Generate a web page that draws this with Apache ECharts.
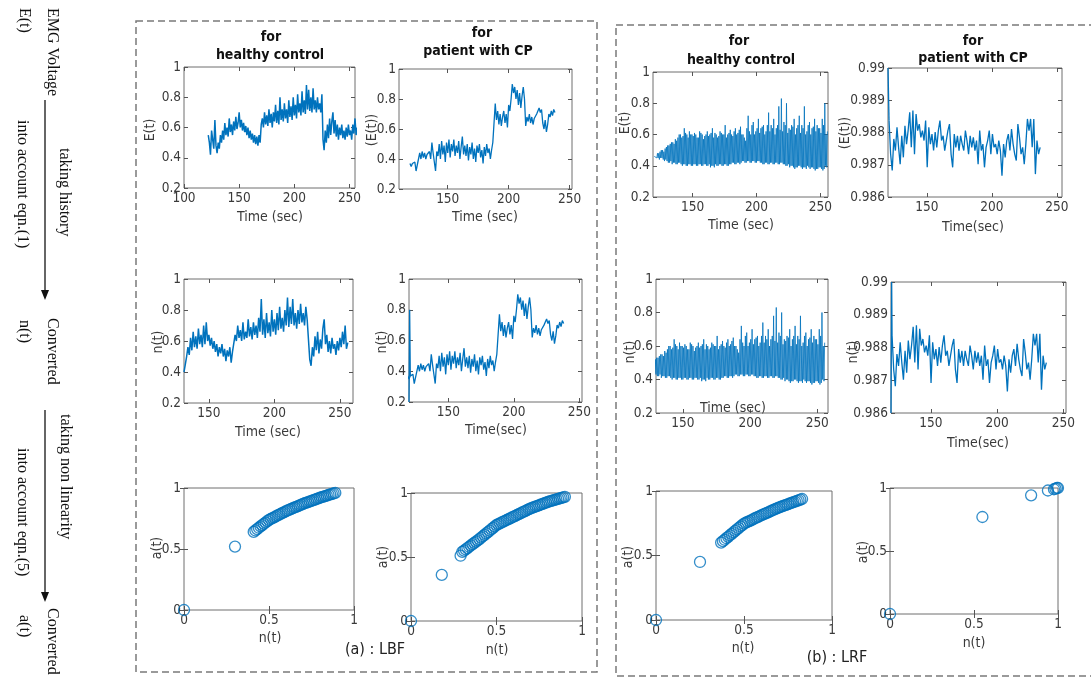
<!DOCTYPE html>
<html>
<head>
<meta charset="utf-8">
<script src="https://cdn.jsdelivr.net/npm/echarts@6/dist/echarts.min.js"></script>
<style>
html,body{margin:0;padding:0;background:#fff;}
#chart{width:1091px;height:686px;}
</style>
</head>
<body>
<div id="chart"></div>
<script>
// ---------------- DATA ----------------
// Tick labels
const ticksTimeA = [100, 150, 200, 250];
const ticksTime = [150, 200, 250];
const ticksE = [0.2, 0.4, 0.6, 0.8, 1];
const ticksFine = [0.986, 0.987, 0.988, 0.989, 0.99];
const ticksUnit = [0, 0.5, 1];

// (a) LBF, healthy control : E(t), samples every 1 s from 122 s
const lbfHealthyE_start = 122, lbfHealthyE_step = 1;
const lbfHealthyE = [
0.55,0.50,0.42,0.58,0.52,0.46,0.65,0.48,0.43,0.50,
0.46,0.55,0.50,0.58,0.52,0.63,0.55,0.60,0.54,0.66,
0.57,0.62,0.55,0.64,0.58,0.67,0.59,0.63,0.70,0.60,
0.65,0.58,0.63,0.57,0.61,0.55,0.60,0.53,0.58,0.52,
0.56,0.50,0.55,0.49,0.54,0.48,0.55,0.50,0.62,0.66,
0.60,0.70,0.62,0.68,0.61,0.72,0.63,0.69,0.60,0.70,
0.64,0.75,0.63,0.71,0.62,0.80,0.65,0.72,0.64,0.76,
0.66,0.72,0.63,0.78,0.67,0.74,0.65,0.80,0.68,0.75,
0.66,0.82,0.70,0.76,0.68,0.84,0.70,0.78,0.69,0.88,
0.72,0.85,0.71,0.80,0.70,0.86,0.72,0.78,0.70,0.80,
0.72,0.76,0.70,0.82,0.52,0.45,0.58,0.50,0.62,0.53,
0.66,0.55,0.64,0.70,0.56,0.65,0.54,0.62,0.52,0.60,
0.55,0.62,0.53,0.58,0.52,0.60,0.54,0.62,0.55,0.58,
0.52,0.62,0.56,0.66,0.55,0.60];

// (a) LBF, patient with CP : E(t), every 1 s from 119 s
const lbfPatientE_start = 119, lbfPatientE_step = 1;
const lbfPatientE = [
0.37,0.35,0.37,0.36,0.38,0.32,0.36,0.37,0.44,0.40,
0.45,0.41,0.44,0.40,0.43,0.42,0.45,0.40,0.51,0.44,
0.38,0.32,0.45,0.42,0.50,0.40,0.52,0.43,0.49,0.38,
0.51,0.44,0.53,0.41,0.50,0.45,0.53,0.42,0.49,0.44,
0.52,0.40,0.48,0.55,0.43,0.49,0.42,0.50,0.39,0.48,
0.43,0.51,0.40,0.47,0.38,0.49,0.44,0.50,0.41,0.46,
0.37,0.48,0.42,0.50,0.44,0.47,0.40,0.46,0.51,0.50,
0.77,0.66,0.72,0.63,0.70,0.62,0.68,0.72,0.64,0.70,
0.61,0.76,0.72,0.80,0.90,0.84,0.88,0.80,0.86,0.76,
0.84,0.74,0.82,0.88,0.80,0.62,0.68,0.65,0.70,0.64,
0.68,0.63,0.67,0.66,0.70,0.72,0.74,0.71,0.73,0.64,
0.60,0.66,0.58,0.63,0.70,0.68,0.72,0.69,0.73,0.71];

// (b) LRF, healthy control : E(t), every 0.5 s from 120 s
const lrfHealthyE_start = 120, lrfHealthyE_step = 0.5;
const lrfHealthyE = [
.46,.47,.46,.47, .45,.48,.45,.48, .44,.49,.45,.50, .45,.50,.44,.49, .43,.51,.44,.52,
.43,.53,.42,.53, .42,.54,.43,.55, .41,.55,.42,.54, .42,.57,.41,.56, .41,.58,.42,.60,
.42,.60,.41,.58, .40,.59,.41,.64, .41,.61,.40,.60, .40,.58,.41,.62, .41,.60,.40,.60,
.40,.59,.41,.61, .41,.60,.40,.58, .40,.58,.41,.62, .41,.61,.40,.60, .40,.57,.41,.59,
.41,.60,.40,.62, .40,.59,.41,.60, .39,.61,.40,.64, .40,.58,.39,.61, .41,.60,.40,.58,
.40,.59,.41,.62, .41,.61,.40,.60, .40,.60,.41,.66, .41,.58,.40,.60, .40,.61,.41,.63,
.41,.60,.42,.59, .42,.62,.41,.64, .41,.60,.42,.61, .42,.63,.41,.65, .42,.60,.43,.60,
.43,.58,.42,.56, .42,.64,.43,.72, .43,.62,.42,.60, .42,.66,.43,.68, .43,.60,.42,.62,
.42,.64,.43,.70, .43,.61,.42,.64, .42,.65,.41,.66, .41,.60,.42,.62, .42,.66,.41,.74,
.41,.62,.42,.66, .42,.64,.41,.70, .41,.60,.42,.64, .42,.66,.41,.78, .41,.63,.42,.83,
.42,.62,.41,.68, .41,.66,.40,.80, .40,.61,.41,.64, .39,.63,.40,.66, .40,.65,.39,.70,
.38,.60,.39,.64, .39,.66,.40,.72, .40,.61,.39,.66, .38,.64,.39,.78, .39,.60,.38,.62,
.40,.66,.39,.68, .38,.60,.39,.64, .39,.65,.38,.70, .37,.62,.38,.66, .38,.64,.39,.64,
.39,.61,.38,.70, .37,.66,.38,.80, .40,.60,.39,.62];

// (b) LRF, patient with CP : E(t), every 1.225 s from 120.8 s
const lrfPatientE_start = 120.8, lrfPatientE_step = 1.225;
const lrfPatientE = [
0.98837,0.98733,0.98682,0.98780,0.98744,0.98816,0.98754,0.98702,0.98790,0.98723,
0.98821,0.98764,0.98806,0.98863,0.98754,0.98868,0.98733,0.98857,0.98806,0.98826,
0.98785,0.98806,0.98775,0.98837,0.98692,0.98816,0.98764,0.98795,0.98744,0.98801,
0.98754,0.98806,0.98837,0.98775,0.98790,0.98744,0.98775,0.98806,0.98826,0.98733,
0.98692,0.98795,0.98754,0.98790,0.98744,0.98790,0.98764,0.98744,0.98806,0.98775,
0.98733,0.98790,0.98754,0.98785,0.98744,0.98775,0.98702,0.98806,0.98744,0.98764,
0.98692,0.98754,0.98775,0.98806,0.98733,0.98795,0.98754,0.98764,0.98733,0.98775,
0.98744,0.98666,0.98764,0.98723,0.98775,0.98795,0.98744,0.98811,0.98764,0.98733,
0.98713,0.98826,0.98785,0.98733,0.98754,0.98702,0.98764,0.98842,0.98806,0.98842,
0.98754,0.98842,0.98671,0.98775,0.98733,0.98754];
// initial transient at the left edge [time, value]
const lrfPatientE_transient = [[120, 0.99], [120.8, 0.98837]];

// (a) LBF, healthy control : n(t), every 1 s from 131 s
const lbfHealthyN_start = 131, lbfHealthyN_step = 1;
const lbfHealthyN = [
0.40,0.45,0.50,0.56,0.51,0.62,0.54,0.66,0.56,0.63,
0.55,0.68,0.58,0.64,0.56,0.70,0.58,0.72,0.60,0.64,
0.57,0.62,0.55,0.60,0.53,0.58,0.50,0.56,0.52,0.58,
0.50,0.55,0.47,0.54,0.50,0.56,0.46,0.53,0.52,0.64,
0.60,0.70,0.62,0.67,0.60,0.72,0.61,0.66,0.62,0.74,
0.63,0.69,0.61,0.72,0.64,0.70,0.62,0.75,0.66,0.87,
0.64,0.74,0.62,0.78,0.65,0.72,0.63,0.80,0.66,0.74,
0.64,0.78,0.67,0.82,0.68,0.75,0.66,0.80,0.70,0.88,
0.69,0.82,0.71,0.87,0.70,0.78,0.68,0.80,0.71,0.84,
0.72,0.78,0.70,0.82,0.74,0.75,0.48,0.44,0.56,0.50,
0.63,0.54,0.66,0.52,0.61,0.55,0.68,0.74,0.58,0.64,
0.53,0.60,0.52,0.62,0.55,0.58,0.51,0.60,0.54,0.62,
0.56,0.66,0.58,0.70,0.55,0.59];

// (a) LBF, patient : n(t) follows E(t); start transient [time, value]
const lbfPatientN_start = 119, lbfPatientN_step = 1;
const lbfPatientN = lbfPatientE.slice();
const lbfPatientN_transient = [[120, 0.2], [120.5, 0.8], [121, 0.37]];

// (b) LRF, healthy : n(t) follows E(t)
const lrfHealthyN_start = 120, lrfHealthyN_step = 0.5;
const lrfHealthyN = lrfHealthyE.slice();

// (b) LRF, patient : n(t) follows E(t)
const lrfPatientN_start = 120.8, lrfPatientN_step = 1.225;
const lrfPatientN = lrfPatientE.slice();
const lrfPatientN_transient = [[120, 0.986], [120.5, 0.99], [120.8, 0.98837]];

// a(t) versus n(t) scatter
const lbfHealthyScN = [0, 0.30,
0.41,0.42,0.43,0.44,0.45,0.46,0.47,0.48,0.49,0.50,0.51,0.52,0.53,0.54,0.55,0.56,0.57,0.58,0.59,0.60,
0.61,0.62,0.63,0.64,0.65,0.66,0.67,0.68,0.69,0.70,0.71,0.72,0.73,0.74,0.75,0.76,0.77,0.78,0.79,0.80,
0.81,0.82,0.83,0.84,0.85,0.86,0.87,0.88,0.89];
const lbfHealthyScA = [0, 0.52,
0.640,0.652,0.663,0.674,0.685,0.696,0.707,0.717,0.728,0.738,0.746,0.753,0.760,0.768,0.775,0.782,0.789,0.796,0.803,0.810,
0.816,0.822,0.828,0.834,0.840,0.846,0.852,0.858,0.864,0.870,0.875,0.880,0.885,0.890,0.895,0.900,0.905,0.910,0.915,0.920,
0.925,0.929,0.934,0.938,0.943,0.947,0.951,0.955,0.960];

const lbfPatientScN = [0, 0.18, 0.29,
0.30,0.31,0.32,0.33,0.34,0.35,0.36,0.37,0.38,0.39,0.40,0.41,0.42,0.43,0.44,0.45,0.46,0.47,0.48,0.49,
0.50,0.51,0.52,0.53,0.54,0.55,0.56,0.57,0.58,0.59,0.60,0.61,0.62,0.63,0.64,0.65,0.66,0.67,0.68,0.69,
0.70,0.71,0.72,0.73,0.74,0.75,0.76,0.77,0.78,0.79,0.80,0.81,0.82,0.83,0.84,0.85,0.86,0.87,0.88,0.89,0.90];
const lbfPatientScA = [0, 0.36, 0.51,
0.540,0.550,0.560,0.570,0.580,0.590,0.600,0.610,0.620,0.630,0.640,0.651,0.662,0.673,0.684,0.695,0.706,0.717,0.728,0.739,
0.750,0.757,0.763,0.770,0.776,0.783,0.789,0.796,0.802,0.809,0.815,0.822,0.828,0.835,0.841,0.848,0.854,0.861,0.867,0.874,
0.880,0.885,0.890,0.895,0.900,0.905,0.910,0.915,0.920,0.925,0.930,0.934,0.938,0.942,0.946,0.950,0.954,0.958,0.962,0.966,0.970];

const lrfHealthyScN = [0, 0.25,
0.37,0.38,0.39,0.40,0.41,0.42,0.43,0.44,0.45,0.46,0.47,0.48,0.49,0.50,0.51,0.52,0.53,0.54,0.55,0.56,
0.57,0.58,0.59,0.60,0.61,0.62,0.63,0.64,0.65,0.66,0.67,0.68,0.69,0.70,0.71,0.72,0.73,0.74,0.75,0.76,
0.77,0.78,0.79,0.80,0.81,0.82,0.83];
const lrfHealthyScA = [0, 0.45,
0.600,0.611,0.622,0.634,0.645,0.657,0.668,0.679,0.691,0.702,0.713,0.725,0.736,0.747,0.754,0.760,0.767,0.773,0.780,0.787,
0.793,0.800,0.806,0.813,0.819,0.825,0.831,0.837,0.843,0.849,0.855,0.861,0.867,0.873,0.878,0.883,0.888,0.893,0.898,0.903,
0.908,0.913,0.918,0.923,0.928,0.933,0.938];

const lrfPatientScN = [0, 0.55, 0.84, 0.94, 0.976, 0.985, 0.994, 1.0];
const lrfPatientScA = [0, 0.77, 0.942, 0.98, 0.99, 0.995, 1.0, 1.0];

// ---------------- BUILD ----------------
const FONT = "'DejaVu Sans Condensed', 'Liberation Sans', Arial, sans-serif";
const SERIF = "'Liberation Serif', 'DejaVu Serif', serif";
const BLUE = '#0072BD';
const TXT = '#3a3a3a';

function sampled(start, step, vals) {
  return vals.map((v, i) => [+(start + i * step).toFixed(3), v]);
}
function pairs(xs, ys) { return xs.map((x, i) => [x, ys[i]]); }

const panels = [
  {l:184,t:67,w:171,h:121, x:[100,255], xt:ticksTimeA, y:[0.2,1], yt:ticksE, yName:'E(t)', yl:[150,130], xName:'Time (sec)', xl:[270,217], lw:1.5,
   series:[sampled(lbfHealthyE_start, lbfHealthyE_step, lbfHealthyE)]},
  {l:399,t:69,w:173,h:120, x:[110,252], xt:ticksTime, y:[0.2,1], yt:ticksE, yName:'(E(t))', yl:[372,130], xName:'Time (sec)', xl:[485,217], lw:1.3,
   series:[sampled(lbfPatientE_start, lbfPatientE_step, lbfPatientE)]},
  {l:653,t:72,w:175,h:125, x:[119,256], xt:ticksTime, y:[0.2,1], yt:ticksE, yName:'E(t)', yl:[625,123], xName:'Time (sec)', xl:[741,225], lw:0.8,
   series:[sampled(lrfHealthyE_start, lrfHealthyE_step, lrfHealthyE)]},
  {l:888,t:68,w:174,h:129, x:[120,254], xt:ticksTime, y:[0.986,0.99], yt:ticksFine, yName:'(E(t))', yl:[845,133], xName:'Time(sec)', xl:[973,227], lw:1.3,
   series:[lrfPatientE_transient, sampled(lrfPatientE_start, lrfPatientE_step, lrfPatientE)]},
  {l:184,t:279,w:169,h:124, x:[131,260], xt:ticksTime, y:[0.2,1], yt:ticksE, yName:'n(t)', yl:[158,342], xName:'Time (sec)', xl:[268,432], lw:1.5,
   series:[sampled(lbfHealthyN_start, lbfHealthyN_step, lbfHealthyN)]},
  {l:409,t:279,w:173,h:123, x:[120,252], xt:ticksTime, y:[0.2,1], yt:ticksE, yName:'n(t)', yl:[382,342], xName:'Time(sec)', xl:[496,430], lw:1.3,
   series:[lbfPatientN_transient, sampled(lbfPatientN_start, lbfPatientN_step, lbfPatientN)]},
  {l:656,t:279,w:172,h:134, x:[130,258], xt:ticksTime, y:[0.2,1], yt:ticksE, yName:'n(t)', yl:[630,352], xName:'Time (sec)', xl:[733,408], lw:0.8,
   series:[sampled(lrfHealthyN_start, lrfHealthyN_step, lrfHealthyN)]},
  {l:891,t:282,w:175,h:131, x:[120,252], xt:ticksTime, y:[0.986,0.99], yt:ticksFine, yName:'n(t)', yl:[853,352], xName:'Time(sec)', xl:[978,443], lw:1.3,
   series:[lrfPatientN_transient, sampled(lrfPatientN_start, lrfPatientN_step, lrfPatientN)]},
  {l:184,t:488,w:170,h:122, x:[0,1], xt:ticksUnit, y:[0,1], yt:ticksUnit, yName:'a(t)', yl:[157,548], xName:'n(t)', xl:[270,638],
   scatter:pairs(lbfHealthyScN, lbfHealthyScA)},
  {l:411,t:493,w:171,h:128, x:[0,1], xt:ticksUnit, y:[0,1], yt:ticksUnit, yName:'a(t)', yl:[383,557], xName:'n(t)', xl:[497,650],
   scatter:pairs(lbfPatientScN, lbfPatientScA)},
  {l:656,t:491,w:176,h:129, x:[0,1], xt:ticksUnit, y:[0,1], yt:ticksUnit, yName:'a(t)', yl:[628,557], xName:'n(t)', xl:[743,648],
   scatter:pairs(lrfHealthyScN, lrfHealthyScA)},
  {l:890,t:488,w:168,h:126, x:[0,1], xt:ticksUnit, y:[0,1], yt:ticksUnit, yName:'a(t)', yl:[863,552], xName:'n(t)', xl:[974,643],
   scatter:pairs(lrfPatientScN, lrfPatientScA)}
];

const grid = [], xAxis = [], yAxis = [], series = [], graphic = [];
const labelStyle = {color: TXT, fontFamily: FONT, fontSize: 13.5};

panels.forEach((p, i) => {
  grid.push({left:p.l, top:p.t, width:p.w, height:p.h, show:true, borderColor:'#6f6f6f', borderWidth:1, backgroundColor:'#fff'});
  const tick = {show:true, inside:true, length:4, lineStyle:{color:'#555', width:1}};
  xAxis.push({type:'value', gridIndex:i, min:p.x[0], max:p.x[1], position:'bottom',
    axisLine:{show:false}, splitLine:{show:false},
    axisTick:Object.assign({customValues:p.xt}, tick),
    axisLabel:Object.assign({customValues:p.xt, margin:3, showMinLabel:true, showMaxLabel:true}, labelStyle)});
  xAxis.push({type:'value', gridIndex:i, min:p.x[0], max:p.x[1], position:'top',
    axisLine:{show:false}, splitLine:{show:false},
    axisTick:Object.assign({customValues:p.xt}, tick), axisLabel:{show:false}});
  yAxis.push({type:'value', gridIndex:i, min:p.y[0], max:p.y[1], position:'left',
    axisLine:{show:false}, splitLine:{show:false},
    axisTick:Object.assign({customValues:p.yt}, tick),
    axisLabel:Object.assign({customValues:p.yt, margin:3}, labelStyle)});
  yAxis.push({type:'value', gridIndex:i, min:p.y[0], max:p.y[1], position:'right',
    axisLine:{show:false}, splitLine:{show:false},
    axisTick:Object.assign({customValues:p.yt}, tick), axisLabel:{show:false}});
  if (p.series) {
    p.series.forEach(d => series.push({type:'line', xAxisIndex:2*i, yAxisIndex:2*i, data:d,
      showSymbol:false, symbol:'none', clip:true, lineStyle:{color:BLUE, width:p.lw}, animation:false}));
  }
  if (p.scatter) {
    series.push({type:'scatter', xAxisIndex:2*i, yAxisIndex:2*i, data:p.scatter, clip:false,
      symbol:'circle', symbolSize:11, animation:false,
      itemStyle:{color:'rgba(255,255,255,0)', borderColor:BLUE, borderWidth:1.3}});
  }
  graphic.push({type:'text', x:p.yl[0], y:p.yl[1], rotation:Math.PI/2, z:10,
    style:{text:p.yName, fill:TXT, font:"14px " + FONT, align:'center', verticalAlign:'middle'}});
  graphic.push({type:'text', x:p.xl[0], y:p.xl[1], z:10,
    style:{text:p.xName, fill:TXT, font:"14px " + FONT, align:'center', verticalAlign:'middle'}});
});

// column titles
const titles = [
  ['for', 271, 37], ['healthy control', 270, 55],
  ['for', 482, 33], ['patient with CP', 478, 51],
  ['for', 739, 41], ['healthy control', 741, 60],
  ['for', 973, 41], ['patient with CP', 973, 58]
];
titles.forEach(t => graphic.push({type:'text', x:t[1], y:t[2], z:10,
  style:{text:t[0], fill:'#111', font:"bold 14px " + FONT, align:'center', verticalAlign:'middle'}}));

// captions
graphic.push({type:'text', x:375, y:650, style:{text:'(a) : LBF', fill:'#222', font:"16px " + FONT, align:'center', verticalAlign:'middle'}});
graphic.push({type:'text', x:837, y:658, style:{text:'(b) : LRF', fill:'#222', font:"16px " + FONT, align:'center', verticalAlign:'middle'}});

// dashed frames
graphic.push({type:'rect', shape:{x:136, y:21, width:461, height:651}, z:1,
  style:{fill:'none', stroke:'#7a7a7a', lineWidth:1.5, lineDash:[7,4]}});
graphic.push({type:'rect', shape:{x:616, y:25, width:520, height:651}, z:1,
  style:{fill:'none', stroke:'#7a7a7a', lineWidth:1.5, lineDash:[7,4]}});

// left flow column (text rotated to read top-to-bottom)
const flowText = [
  ['EMG Voltage', 52, 8], ['E(t)', 24, 8],
  ['taking history', 64, 148], ['into account eqn.(1)', 22, 120],
  ['Converted', 52, 318], ['n(t)', 24, 320],
  ['taking non linearity', 65, 414], ['into account eqn.(5)', 22, 448],
  ['Converted', 52, 608], ['a(t)', 24, 615]
];
flowText.forEach(t => graphic.push({type:'text', x:t[1], y:t[2], rotation:-Math.PI/2,
  style:{text:t[0], fill:'#111', font:"16px " + SERIF, align:'left', verticalAlign:'middle'}}));
function arrow(x, y1, y2) {
  graphic.push({type:'line', shape:{x1:x, y1:y1, x2:x, y2:y2-8}, style:{stroke:'#333', lineWidth:1.5}});
  graphic.push({type:'polygon', shape:{points:[[x-4, y2-10],[x+4, y2-10],[x, y2]]}, style:{fill:'#111'}});
}
arrow(45, 100, 300);
arrow(45, 410, 602);

const chart = echarts.init(document.getElementById('chart'), null, {renderer:'canvas'});
chart.setOption({animation:false, backgroundColor:'#fff', grid, xAxis, yAxis, series, graphic});
</script>
</body>
</html>
